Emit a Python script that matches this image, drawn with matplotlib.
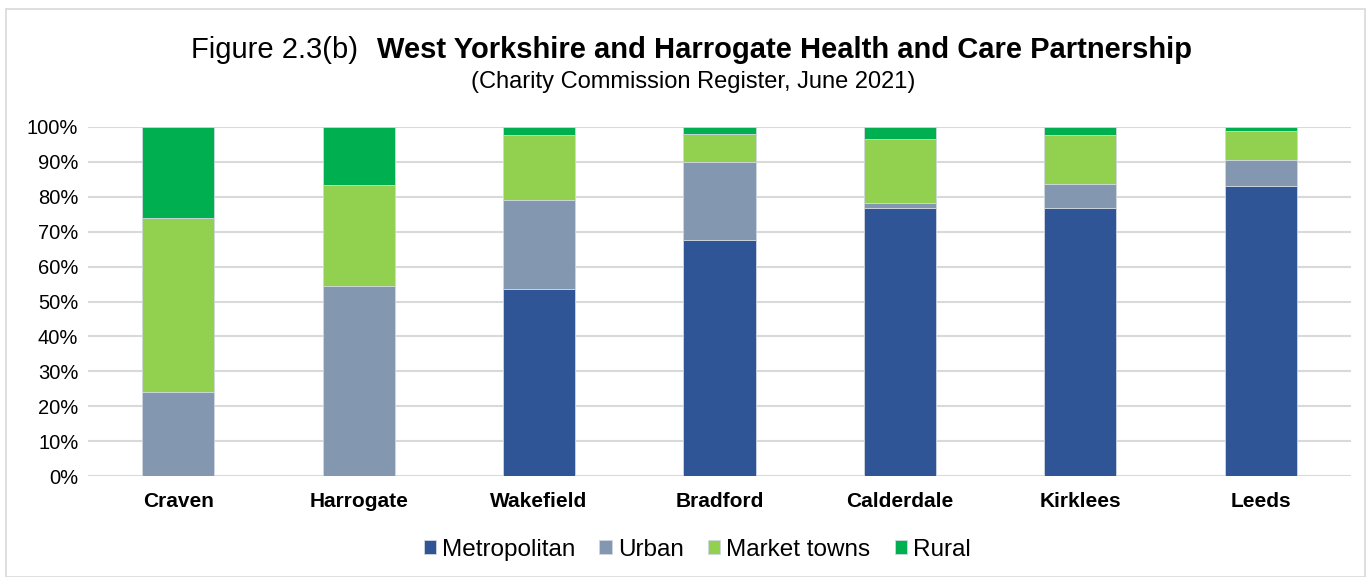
import matplotlib.pyplot as plt
import numpy as np
from matplotlib.patches import Rectangle

plt.rcParams['font.family'] = ['Liberation Sans', 'DejaVu Sans']

# Share of charities by area type (%)
districts = ["Craven", "Harrogate", "Wakefield", "Bradford", "Calderdale", "Kirklees", "Leeds"]
metropolitan = [0.0, 0.0, 53.5, 67.6, 76.7, 76.7, 83.1]
urban = [24.2, 54.4, 25.7, 22.5, 1.5, 6.9, 7.4]
market_towns = [49.7, 29.1, 18.6, 7.8, 18.4, 14.0, 8.4]
rural = [26.1, 16.5, 2.2, 2.1, 3.4, 2.4, 1.1]

series = [
    ("Metropolitan", metropolitan, "#2F5597"),
    ("Urban", urban, "#8497B0"),
    ("Market towns", market_towns, "#92D050"),
    ("Rural", rural, "#00B050"),
]

fig = plt.figure(figsize=(13.66, 5.77), dpi=100)
ax = fig.add_axes([88 / 1366, 1 - 476 / 577, (1351 - 88) / 1366, (476 - 127) / 577])

x = np.arange(len(districts))
bottom = np.zeros(len(districts))
for name, vals, col in series:
    vals = np.array(vals)
    ax.bar(x, vals, bottom=bottom, width=0.4, color=col, label=name,
           edgecolor="#D0D7E0", linewidth=0.6, zorder=3)
    bottom += vals

ax.set_xlim(-0.5, len(districts) - 0.5)
ax.set_ylim(0, 100)
ax.set_yticks(np.arange(0, 101, 10))
ax.set_yticklabels([f"{v}%" for v in range(0, 101, 10)], fontsize=14.5)
ax.set_xticks(x)
ax.set_xticklabels(districts, fontsize=15, fontweight="bold", va="baseline")
ax.tick_params(axis="y", length=0, pad=7)
ax.tick_params(axis="x", length=0, pad=22)
ax.grid(axis="y", color="#D9D9D9", linewidth=1.5, zorder=0)
for s in ax.spines.values():
    s.set_visible(False)

# title: regular prefix + bold main part
fig.text(358 / 1366, 1 - 50 / 577, "Figure 2.3(b)", ha="right", va="center", fontsize=21)
fig.text(377 / 1366, 1 - 50 / 577, "West Yorkshire and Harrogate Health and Care Partnership",
         ha="left", va="center", fontsize=21, fontweight="bold")
fig.text(693 / 1366, 1 - 82 / 577, "(Charity Commission Register, June 2021)",
         ha="center", va="center", fontsize=17)

fig.legend(loc="center", bbox_to_anchor=(697 / 1366, 1 - 550 / 577), ncol=4,
           frameon=False, fontsize=17.5, handlelength=0.5, handleheight=0.5,
           handletextpad=0.25, columnspacing=1.0)

# light chart border
fig.patches.append(Rectangle((6 / 1366, 0), 1 - 7 / 1366, 1 - 9 / 577, transform=fig.transFigure,
                             fill=False, edgecolor="#D9D9D9", linewidth=1.2))

fig.savefig("out.png", dpi=100)
